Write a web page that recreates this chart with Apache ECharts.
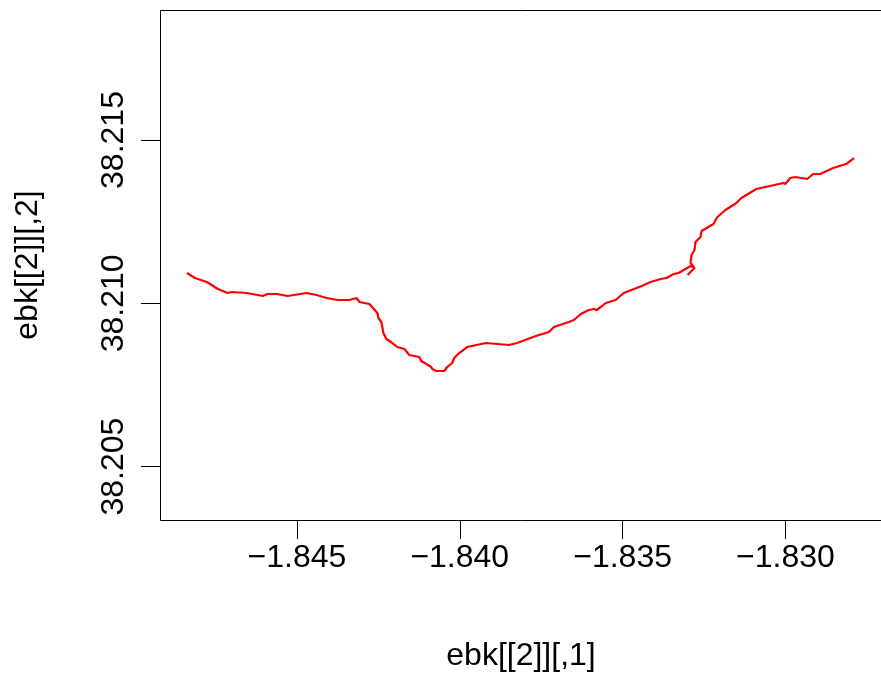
<!DOCTYPE html>
<html>
<head>
<meta charset="utf-8">
<script src="https://cdn.jsdelivr.net/npm/echarts@6/dist/echarts.min.js"></script>
<style>
  html, body { margin: 0; padding: 0; background: #fff; }
  #chart { width: 881px; height: 677px; }
</style>
</head>
<body>
<div id="chart"></div>
<script>
// track coordinates
const lon = [
  -1.848377, -1.848132, -1.847765, -1.847428, -1.847122, -1.846999, -1.846540, -1.846050,
  -1.845897, -1.845622, -1.845285, -1.844703, -1.844397, -1.844091, -1.843754, -1.843386,
  -1.843172, -1.843080, -1.843019, -1.842774, -1.842529, -1.842498, -1.842406, -1.842345,
  -1.842253, -1.842070, -1.841917, -1.841702, -1.841549, -1.841243, -1.841182, -1.841029,
  -1.840875, -1.840845, -1.840722, -1.840477, -1.840386, -1.840232, -1.840171, -1.840018,
  -1.839773, -1.839191, -1.838487, -1.838242, -1.837660, -1.837262, -1.837109, -1.836650,
  -1.836497, -1.836282, -1.836037, -1.835884, -1.835793, -1.835670, -1.835517, -1.835211,
  -1.834966, -1.834415, -1.834139, -1.833833, -1.833649, -1.833435, -1.833282, -1.832914,
  -1.832792, -1.833006, -1.832792, -1.832914, -1.832884, -1.832792, -1.832761, -1.832608,
  -1.832577, -1.832210, -1.832149, -1.832088, -1.831843, -1.831506, -1.831353, -1.830893,
  -1.830067, -1.830005, -1.829852, -1.829699, -1.829332, -1.829148, -1.828934, -1.828536,
  -1.828138, -1.827893
];
const lat = [
  38.210928, 38.210775, 38.210652, 38.210438, 38.210315, 38.210346, 38.210315, 38.210224,
  38.210285, 38.210285, 38.210224, 38.210315, 38.210254, 38.210162, 38.210101, 38.210101,
  38.210162, 38.210040, 38.210070, 38.209979, 38.209703, 38.209550, 38.209427, 38.209091,
  38.208907, 38.208784, 38.208662, 38.208601, 38.208417, 38.208356, 38.208233, 38.208141,
  38.208050, 38.207988, 38.207927, 38.207927, 38.208050, 38.208172, 38.208325, 38.208478,
  38.208662, 38.208784, 38.208723, 38.208784, 38.208999, 38.209121, 38.209274, 38.209427,
  38.209489, 38.209672, 38.209795, 38.209825, 38.209795, 38.209887, 38.210009, 38.210101,
  38.210315, 38.210530, 38.210652, 38.210744, 38.210775, 38.210897, 38.210928, 38.211142,
  38.211081, 38.210867, 38.211081, 38.211234, 38.211479, 38.211632, 38.211877, 38.212030,
  38.212214, 38.212428, 38.212489, 38.212643, 38.212857, 38.213071, 38.213224, 38.213500,
  38.213684, 38.213653, 38.213837, 38.213867, 38.213806, 38.213959, 38.213959, 38.214143,
  38.214265, 38.214449
];
const xTicks = [-1.845, -1.840, -1.835, -1.830];
const yTicks = [38.205, 38.210, 38.215];
const xTitle = 'ebk[[2]][,1]';
const yTitle = 'ebk[[2]][,2]';

// plot region limits (box edges)
const xLim = [-1.849204, -1.827066];
const yLim = [38.203365, 38.218981];

const font = '"Liberation Sans", Arial, sans-serif';
const chart = echarts.init(document.getElementById('chart'));

const options = {
    animation: false,
    backgroundColor: '#fff',
    grid: {
        left: 160,
        top: 10,
        width: 723,
        height: 510
    },
    xAxis: {
        type: 'value',
        min: xLim[0],
        max: xLim[1],
        axisLine: { show: false },
        axisTick: {
            customValues: xTicks,
            length: 19,
            lineStyle: { color: '#000', width: 1 }
        },
        axisLabel: {
            customValues: xTicks,
            margin: 22,
            color: '#000',
            fontSize: 32,
            fontFamily: font,
            formatter: v => v.toFixed(3).replace('-', '\u2212')
        },
        splitLine: { show: false }
    },
    yAxis: {
        type: 'value',
        min: yLim[0],
        max: yLim[1],
        axisLine: { show: false },
        axisTick: {
            customValues: yTicks,
            length: 19,
            lineStyle: { color: '#000', width: 1 }
        },
        axisLabel: {
            customValues: yTicks,
            margin: 30,
            rotate: 90,
            color: '#000',
            fontSize: 32,
            fontFamily: font,
            formatter: v => v.toFixed(3)
        },
        splitLine: { show: false }
    },
    graphic: [
        {
            type: 'rect',
            shape: { x: 160.5, y: 10.5, width: 723, height: 510 },
            style: { fill: 'none', stroke: '#000', lineWidth: 1 },
            silent: true
        },
        {
            type: 'text',
            x: 521,
            y: 656,
            style: {
                text: xTitle,
                fill: '#000',
                font: '32px ' + font,
                align: 'center',
                verticalAlign: 'middle'
            }
        },
        {
            type: 'text',
            x: 28,
            y: 265,
            rotation: Math.PI / 2,
            style: {
                text: yTitle,
                fill: '#000',
                font: '32px ' + font,
                align: 'center',
                verticalAlign: 'middle'
            }
        }
    ],
    series: [
        {
            type: 'line',
            data: lon.map((x, i) => [x, lat[i]]),
            showSymbol: false,
            lineStyle: { color: '#ff0000', width: 2.2 }
        }
    ]
};

chart.setOption(options);
</script>
</body>
</html>
